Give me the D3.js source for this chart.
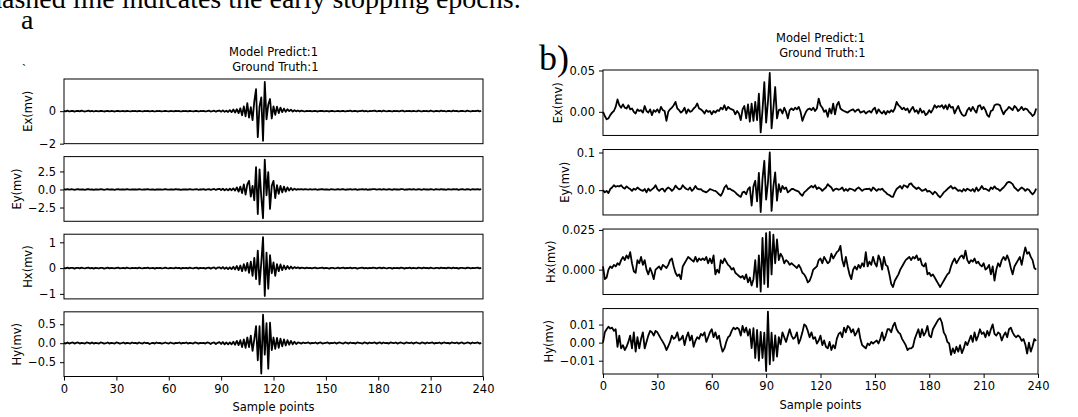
<!DOCTYPE html>
<html>
<head>
<meta charset="utf-8">
<script src="https://cdn.jsdelivr.net/npm/d3@7"></script>
<style>
  body { margin: 0; background: #fff; }
  svg text { font-family: 'DejaVu Sans', sans-serif; fill: #000; }
  .serif { font-family: 'Liberation Serif', 'Times New Roman', serif; }
  .axis text { font-size: 11.5px; }
  .axis line { stroke: #000; }
</style>
</head>
<body>
<script>
/* global d3 */
(function () {
  'use strict'

  // Sample axis
  var xTicks = [0, 30, 60, 90, 120, 150, 180, 210, 240]
  var channels = ['Ex(mv)', 'Ey(mv)', 'Hx(mv)', 'Hy(mv)']
  var titleLines = ['Model Predict:1', ' Ground Truth:1']

  // Panel a) - strong event, values in mv, one per sample
  var aEx = [
    0.02, -0.01, 0.03, -0.02, 0.01, 0.02, -0.03, 0.01, 0.02, -0.01, 0.03, 0, -0.02, 0.01, 0.03, -0.01, 0.02, -0.02, 0.01, 0,
    -0.01, 0.02, 0.01, -0.02, 0, 0.02, -0.01, 0.01, 0, -0.02, 0.01, 0.02, -0.01, 0, 0.01, -0.01, 0.02, 0, -0.01, 0.01,
    0, 0.01, -0.01, 0.02, 0, -0.01, 0.01, 0, 0.02, -0.01, 0, 0.01, -0.02, 0.01, 0, 0.01, -0.01, 0, 0.02, 0,
    -0.01, 0.01, 0, -0.01, 0.02, 0, 0.01, -0.02, 0.01, 0, 0.01, -0.01, 0.02, 0, -0.01, 0.01, 0.02, -0.02, 0.01, 0,
    0.02, -0.02, 0.01, 0.03, -0.02, 0, 0.03, -0.03, 0.02, 0.04, -0.03, 0.05, -0.04, 0.03, -0.05, 0.06, -0.06, 0.1, -0.08, 0.12,
    -0.12, 0.18, -0.25, 0.3, -0.32, 0.5, -0.4, 0.25, -0.55, 0.6, 1.35, -1.6, 0.3, 0.85, -1.82, 1.8, -0.5, 0.4, 0.75, -0.45,
    0.3, -0.22, 0.28, -0.12, 0.22, -0.06, 0.16, -0.04, 0.12, 0, 0.09, -0.03, 0.06, -0.01, 0.04, -0.02, 0.03, 0.01, -0.02, 0.02,
    0, 0.02, -0.01, 0.01, 0.02, -0.02, 0, 0.01, 0.02, -0.01, 0.01, 0, -0.02, 0.02, 0.01, -0.01, 0, 0.02, -0.01, 0.01,
    0.02, -0.02, 0.01, 0, 0.03, -0.01, 0.01, 0.02, -0.02, 0, 0.01, 0.03, -0.01, 0.02, -0.02, 0.01, 0, 0.02, 0.03, -0.01,
    0.01, 0.02, -0.02, 0.03, 0, -0.01, 0.02, 0.01, -0.02, 0.02, 0, 0.01, -0.01, 0.02, 0.03, -0.02, 0.01, 0, 0.02, -0.01,
    0.02, 0, -0.01, 0.03, 0.01, -0.02, 0.02, 0, 0.01, -0.01, 0.03, 0, -0.02, 0.02, 0.01, -0.01, 0.03, 0, 0.01, -0.02,
    0.02, 0.01, -0.01, 0.03, 0, 0.02, -0.02, 0.01, 0.02, 0, -0.01, 0.03, 0.01, -0.02, 0.02, 0, 0.01, 0.03, -0.01, 0.02
  ]
  var aEy = [
    0.04, -0.03, 0.05, -0.02, 0.03, 0.01, -0.04, 0.02, 0.05, -0.03, 0.02, 0, -0.04, 0.03, 0.05, -0.02, 0.03, -0.05, 0.02, 0,
    -0.03, 0.04, 0.02, -0.04, 0, 0.05, -0.02, 0.03, 0, -0.04, 0.02, 0.04, -0.03, 0, 0.02, -0.03, 0.05, 0, -0.02, 0.03,
    0, 0.03, -0.02, 0.04, 0, -0.03, 0.02, 0, 0.05, -0.02, 0, 0.03, -0.04, 0.02, 0, 0.03, -0.02, 0, 0.04, 0,
    -0.03, 0.02, 0, -0.02, 0.05, 0, 0.03, -0.04, 0.02, 0, 0.03, -0.02, 0.04, 0, -0.03, 0.02, 0.05, -0.04, 0.03, 0,
    0.04, -0.05, 0.03, 0.06, -0.05, 0.02, 0.07, -0.06, 0.05, 0.09, -0.08, 0.1, -0.1, 0.08, -0.12, 0.1, -0.1, 0.15, -0.15, 0.3,
    -0.3, 0.4, -0.5, 0.7, -0.7, 0.7, 1.2, -1.0, 0.5, -1.5, 3.1, -3.4, 2.8, -1.0, -4.0, 4.15, -0.8, 2.4, -2.7, 0.5,
    1.2, -1.2, 0.6, -0.6, 0.5, -0.4, 0.4, -0.3, 0.3, -0.15, 0.2, -0.1, 0.12, -0.05, 0.06, 0, 0.04, -0.03, 0.05, 0.02,
    -0.02, 0.04, -0.03, 0.02, 0.05, -0.04, 0, 0.03, 0.05, -0.02, 0.03, 0, -0.04, 0.05, 0.02, -0.03, 0, 0.04, -0.02, 0.03,
    0.05, -0.04, 0.02, 0, 0.06, -0.03, 0.02, 0.04, -0.05, 0, 0.03, 0.06, -0.02, 0.04, -0.04, 0.03, 0, 0.05, 0.06, -0.03,
    0.02, 0.05, -0.04, 0.06, 0, -0.03, 0.04, 0.02, -0.05, 0.04, 0, 0.03, -0.02, 0.05, 0.06, -0.04, 0.02, 0, 0.05, -0.03,
    0.04, 0, -0.03, 0.06, 0.02, -0.04, 0.05, 0, 0.03, -0.02, 0.06, 0, -0.04, 0.05, 0.02, -0.03, 0.06, 0, 0.03, -0.04,
    0.05, 0.02, -0.03, 0.06, 0, 0.04, -0.05, 0.02, 0.05, 0, -0.03, 0.06, 0.02, -0.04, 0.05, 0, 0.03, 0.06, -0.02, 0.04
  ]
  var aHx = [
    0.01, -0.01, 0.02, -0.01, 0.01, 0.01, -0.02, 0.01, 0.01, -0.01, 0.02, 0, -0.01, 0.01, 0.02, -0.01, 0.01, -0.02, 0.01, 0,
    -0.01, 0.01, 0.01, -0.02, 0, 0.02, -0.01, 0.01, 0, -0.01, 0.01, 0.02, -0.01, 0, 0.01, -0.01, 0.02, 0, -0.01, 0.01,
    0, 0.01, -0.01, 0.02, 0, -0.01, 0.01, 0, 0.02, -0.01, 0, 0.01, -0.02, 0.01, 0, 0.01, -0.01, 0, 0.02, 0,
    -0.01, 0.01, 0, -0.01, 0.02, 0, 0.01, -0.02, 0.01, 0, 0.01, -0.01, 0.02, 0, -0.01, 0.01, 0.02, -0.02, 0.01, 0,
    0.01, -0.02, 0.01, 0.02, -0.02, 0.01, 0.03, -0.03, 0.02, 0.03, -0.02, 0.04, -0.03, 0.03, -0.04, 0.03, -0.04, 0.05, -0.05, 0.08,
    -0.08, 0.1, -0.12, 0.15, -0.1, 0.2, -0.18, 0.25, -0.3, 0.4, -0.43, 0.68, -0.63, 0.2, 1.2, -1.08, 0.6, -0.8, 0.5, -0.2,
    0.22, -0.3, 0.15, -0.12, 0.14, -0.08, 0.1, -0.05, 0.08, -0.03, 0.06, -0.02, 0.04, 0, 0.03, -0.01, 0.02, 0.01, -0.01, 0.02,
    0, 0.01, -0.01, 0.01, 0.02, -0.01, 0, 0.01, 0.02, -0.01, 0.01, 0, -0.02, 0.01, 0.01, -0.01, 0, 0.02, -0.01, 0.01,
    0.02, -0.01, 0.01, 0, 0.02, -0.01, 0.01, 0.01, -0.02, 0, 0.01, 0.02, -0.01, 0.01, -0.01, 0.01, 0, 0.02, 0.01, -0.01,
    0.01, 0.02, -0.01, 0.02, 0, -0.01, 0.01, 0.01, -0.02, 0.01, 0, 0.01, -0.01, 0.02, 0.01, -0.02, 0.01, 0, 0.02, -0.01,
    0.01, 0, -0.01, 0.02, 0.01, -0.01, 0.02, 0, 0.01, -0.01, 0.02, 0, -0.01, 0.01, 0.01, -0.01, 0.02, 0, 0.01, -0.01,
    0.02, 0.01, -0.01, 0.02, 0, 0.01, -0.02, 0.01, 0.01, 0, -0.01, 0.02, 0.01, -0.01, 0.01, 0, 0.01, 0.02, -0.01, 0.01
  ]
  var aHy = [
    0.01, -0.01, 0.02, -0.01, 0.01, 0.02, -0.01, 0.01, 0.02, -0.01, 0.01, 0, -0.01, 0.02, 0.01, -0.01, 0.02, -0.01, 0.01, 0,
    -0.01, 0.02, 0.01, -0.01, 0, 0.02, -0.01, 0.01, 0, -0.01, 0.02, 0.01, -0.01, 0, 0.02, -0.01, 0.01, 0, -0.01, 0.02,
    0, 0.01, -0.01, 0.02, 0, -0.01, 0.02, 0, 0.01, -0.02, 0, 0.01, -0.01, 0.02, 0, 0.01, -0.01, 0, 0.02, 0,
    -0.01, 0.02, 0, -0.01, 0.01, 0, 0.02, -0.01, 0.01, 0, 0.02, -0.01, 0.01, 0, -0.01, 0.02, 0.01, -0.01, 0.01, 0,
    0.01, -0.01, 0.02, 0.01, -0.02, 0.01, 0.02, -0.02, 0.01, 0.03, -0.02, 0.03, -0.03, 0.02, -0.03, 0.02, -0.03, 0.04, -0.04, 0.06,
    -0.05, 0.08, -0.1, 0.1, -0.12, 0.15, -0.1, 0.2, -0.2, 0.1, 0.45, -0.45, 0.45, -0.8, 0.75, -0.3, 0.53, -0.67, 0.54, -0.18,
    0.15, -0.15, 0.14, -0.12, 0.12, -0.08, 0.1, -0.06, 0.08, -0.04, 0.06, -0.03, 0.04, -0.02, 0.02, 0.01, -0.01, 0.02, 0, 0.01,
    0.02, -0.01, 0.01, 0, 0.02, -0.01, 0.01, 0.02, -0.01, 0, 0.01, 0.02, -0.01, 0.01, 0, 0.02, -0.01, 0.01, 0.02, 0,
    -0.01, 0.02, 0.01, -0.01, 0.02, 0, 0.01, -0.01, 0.02, 0.01, 0, -0.01, 0.02, 0.01, -0.01, 0.02, 0, 0.01, 0.02, -0.01,
    0.01, 0.02, -0.01, 0.02, 0, 0.01, -0.01, 0.02, 0.01, 0, 0.02, -0.01, 0.01, 0.02, 0, -0.01, 0.02, 0.01, 0, 0.02,
    -0.01, 0.01, 0.02, 0, -0.01, 0.02, 0.01, -0.01, 0.02, 0, 0.01, 0.02, -0.01, 0.01, 0, 0.02, -0.01, 0.01, 0.02, 0,
    0.01, -0.01, 0.02, 0.01, 0, 0.02, -0.01, 0.01, 0.02, -0.01, 0, 0.02, 0.01, -0.01, 0.02, 0, 0.01, 0.02, -0.01, 0.01
  ]

  // Panel b) - weak event buried in noise, values in mv
  var bEx = [
    0, -0.005, -0.009, -0.008, -0.004, -0.001, 0.001, 0.006, 0.015, 0.008, 0.005, 0.009, 0.005, 0.004, 0.008, 0.003, 0.004, 0, -0.002, 0.003,
    0.001, 0.002, -0.001, 0.007, 0.001, -0.001, 0.003, -0.004, 0.002, 0, 0.003, -0.001, 0.006, 0.002, 0.001, -0.011, 0, 0.003, 0.005, 0.008,
    0.012, 0.004, 0.002, -0.001, 0.001, 0.005, -0.002, 0.003, 0, 0.001, 0.004, 0.006, 0.010, 0.004, 0.003, 0.001, -0.002, 0.002, 0, 0.001,
    -0.003, 0.001, -0.001, 0.002, 0.001, 0.005, 0.003, 0.008, 0.002, 0.006, 0.004, 0.003, 0.002, -0.003, 0.001, -0.002, -0.010, 0.003, 0.007, -0.008,
    0.009, -0.012, 0.010, -0.011, 0.012, -0.010, 0.022, -0.025, 0.002, 0.036, -0.013, 0.012, 0.047, -0.020, 0.004, 0.030, -0.008, 0.002, 0.003, -0.002,
    0.005, 0, -0.008, 0.002, 0.004, 0.002, 0.005, 0.003, 0.006, 0, -0.011, -0.005, 0, 0.003, 0.004, 0.002, 0.005, 0.001, 0.004, 0.016,
    0.008, 0.005, 0, 0.002, -0.006, 0.004, -0.002, 0.010, -0.003, 0.008, 0.012, 0.004, 0.002, 0.001, 0, -0.001, 0.001, 0.002, 0.003, 0,
    0.002, 0.003, -0.001, 0, 0.001, -0.002, 0, 0.001, -0.001, 0.003, 0.005, -0.002, 0.003, 0, -0.002, 0.001, -0.003, 0.001, -0.001, 0.002,
    0, 0.004, 0.012, 0.008, 0.006, 0.003, 0.005, 0.002, 0.004, -0.001, 0.003, 0.006, 0, 0.002, -0.002, 0.004, -0.001, 0.001, -0.004, -0.002,
    0.002, -0.001, 0.003, 0.008, 0.005, 0.007, 0.006, 0.008, 0.004, 0.008, 0.003, 0.009, 0.005, 0.006, -0.002, 0.003, 0.007, 0.001, -0.003, -0.005,
    -0.004, 0.002, 0.005, 0.001, 0.006, 0.002, -0.001, 0.007, 0.008, 0.003, 0.006, 0.002, -0.004, -0.006, 0.001, 0.002, 0.008, 0.009, 0.009, 0.008,
    0.002, -0.003, 0.001, 0.003, 0.006, 0.004, 0.002, 0.007, 0.005, 0.001, 0.003, 0.006, 0.002, 0.004, 0.003, 0, -0.002, -0.005, -0.003, 0.004
  ]
  var bEy = [
    0, -0.006, -0.002, -0.008, 0.003, 0.007, 0.013, 0.009, 0.011, 0.010, 0.013, 0.007, 0.004, 0.010, 0.006, 0.003, -0.002, 0.004, 0.001, 0.007,
    0.003, 0, -0.002, 0.003, -0.006, 0.004, -0.002, 0.002, 0.006, 0.013, 0.003, -0.002, 0.003, 0.004, -0.004, 0.003, 0.007, 0.004, -0.002, 0.003,
    0.012, 0.006, 0.002, 0.004, 0.013, 0.007, 0.003, 0.001, 0.007, -0.002, 0.003, 0.011, 0.004, 0.002, 0.003, -0.002, -0.004, -0.006, -0.002, 0.003,
    0.001, -0.001, -0.002, -0.006, -0.011, -0.015, -0.006, 0.007, 0.013, 0.003, 0.004, 0, -0.002, -0.006, -0.011, -0.015, -0.018, -0.006, -0.004, -0.011,
    0.003, 0.008, -0.041, 0.010, 0.025, -0.030, 0.046, -0.058, 0.030, 0.078, -0.025, 0.020, 0.100, -0.055, 0.010, 0.047, -0.028, 0.016, -0.005, 0.011,
    0.003, 0.007, -0.006, -0.002, 0.003, 0.003, 0, -0.002, -0.004, -0.011, -0.015, -0.006, -0.002, 0.003, 0.007, 0.011, 0.007, 0.013, 0.003, 0.007,
    0.004, -0.002, 0.003, 0.007, 0.016, 0.011, 0.007, -0.002, 0.003, 0.004, 0.001, 0.003, 0.007, -0.002, 0.003, -0.002, 0.004, 0.003, 0.001, -0.002,
    0.004, 0.007, 0.003, -0.002, 0.002, 0.003, 0.003, 0.004, -0.002, 0.007, 0.003, -0.002, 0.003, 0.001, 0.004, -0.002, -0.006, -0.011, -0.013, -0.017,
    -0.018, -0.006, 0.003, 0.007, 0.011, 0.004, 0.013, 0.011, 0.007, 0.016, 0.018, 0.011, 0.007, 0.003, 0.007, 0.003, -0.002, 0, 0.003, -0.004,
    -0.002, -0.006, -0.011, -0.004, -0.008, -0.015, -0.019, -0.013, -0.006, -0.002, 0.003, 0.007, 0.011, 0.004, 0.007, 0.003, -0.002, 0, -0.004, 0.003,
    -0.002, 0.004, 0.001, -0.002, 0.003, -0.004, 0.007, -0.002, 0.003, 0.011, 0.003, 0.004, 0.001, -0.002, 0.007, 0.003, 0.010, 0.004, 0.003, -0.002,
    0.003, 0.007, 0.013, 0.020, 0.022, 0.020, 0.016, 0.007, 0.003, -0.002, 0.003, 0.007, 0.004, -0.002, 0.003, 0.001, -0.006, -0.011, -0.006, 0.004
  ]
  var bHx = [
    0.002, -0.006, -0.005, 0, 0.002, 0.001, 0.003, 0.002, 0.004, 0.003, 0.006, 0.008, 0.006, 0.009, 0.007, 0.011, 0.004, -0.001, -0.002, 0.006,
    0.004, 0.008, 0.003, 0.006, 0, -0.003, 0.001, -0.002, -0.006, 0, 0.001, 0.002, 0, 0.003, 0.002, 0.001, 0.003, 0.006, 0.007, 0.002,
    -0.002, -0.004, -0.003, -0.006, 0.002, 0.004, 0.006, 0.008, 0.007, 0.006, 0.005, 0.008, 0.005, 0.007, 0.006, 0.007, 0.006, 0.008, 0.004, 0.007,
    0.004, 0.009, -0.003, 0, -0.002, 0.006, 0.004, 0.007, 0.005, 0.003, 0.002, 0, 0.001, -0.002, -0.003, -0.004, -0.005, -0.004, -0.006, -0.003,
    -0.008, -0.005, -0.010, -0.006, 0.006, -0.011, 0.009, -0.0138, 0.020, -0.009, 0.023, -0.011, 0.0237, -0.003, 0.022, 0.004, 0.019, 0.006, 0.010, 0.008,
    0.004, 0.006, 0.005, 0.003, 0.004, 0.003, 0.002, 0.001, 0.003, 0.001, -0.002, -0.003, -0.005, -0.008, -0.007, -0.004, 0, 0.001, 0.002, 0.006,
    0.007, 0.004, 0.008, 0.006, 0.004, 0.005, 0.010, 0.007, 0.009, 0.011, 0.012, 0.015, 0.006, 0.002, 0.008, 0.002, -0.003, -0.006, 0, 0.002,
    0, 0.003, 0.001, 0.004, 0.002, 0.011, 0.002, 0.005, 0.003, 0.008, 0.004, 0.002, 0.009, 0.006, 0, 0.008, 0.003, 0.002, -0.003, -0.009,
    -0.011, -0.007, -0.005, -0.003, 0, 0.002, 0.004, 0.006, 0.007, 0.008, 0.006, 0.008, 0.007, 0.009, 0.006, 0.007, 0.003, 0.002, 0.004, -0.003,
    -0.002, -0.004, -0.003, -0.005, -0.007, -0.009, -0.011, -0.009, -0.007, -0.005, -0.003, -0.002, 0.002, 0.005, 0.007, 0.004, 0.006, 0.008, 0.009, 0.007,
    0.012, 0.006, 0.004, 0.006, 0.005, 0.007, 0.004, 0.005, 0.003, 0.002, 0.004, 0, 0.001, 0.003, -0.003, 0.002, -0.007, 0, 0.004, 0.002,
    0.006, 0.008, 0.006, 0.009, 0.006, 0.001, -0.003, 0.002, 0.004, 0.006, 0.008, 0.003, 0.009, 0.014, 0.010, 0.011, 0.008, 0.006, 0.001, 0
  ]
  var bHy = [
    0, 0.0057, 0.0074, 0.0088, 0.0078, 0.0083, 0.0065, 0.0074, -0.0023, 0.0039, -0.0032, -0.0014, -0.0041, -0.0023, 0.0004, 0.0039, -0.0032, 0.0057, -0.005, 0.003,
    -0.0032, 0.0021, 0.0057, -0.0032, 0.0004, 0.0039, 0.0065, 0.0057, 0.0039, 0.0065, 0.0057, 0.0039, 0.0021, 0.0004, -0.0014, -0.0041, -0.002, 0.0004, 0.0039, 0.0021,
    0.003, 0.0057, 0.0012, 0.002, 0.0039, -0.0014, 0.003, 0.0057, 0.0012, 0.0039, -0.0023, 0.001, 0.003, 0.0021, 0.0048, 0.0039, 0.0057, 0.0004, 0.003, 0.0057,
    0.0074, 0.003, 0.0057, 0.0021, 0.0039, -0.0014, -0.005, -0.0032, 0.0004, 0.003, 0.0039, 0.0065, 0.0083, 0.0074, 0.0083, 0.0074, 0.0039, 0.0092, 0.0057, 0.0083,
    0.0039, 0.0074, -0.003, 0.008, -0.0085, 0.007, -0.010, 0.006, -0.0085, 0.0055, -0.0157, 0.0172, -0.012, 0.0055, -0.010, 0.004, -0.0077, 0.003, -0.001, 0.0057,
    0.003, 0.0004, 0.0039, 0.0074, 0.0039, 0.0021, 0.003, 0.0057, -0.0005, 0.0021, 0.0057, 0.0101, 0.0092, 0.0065, 0.003, 0.0057, 0.0021, 0.003, -0.0005, 0.0012,
    0.0039, -0.0014, 0.0012, -0.0023, -0.0032, 0.0004, -0.0041, -0.0014, -0.0032, 0.0021, 0.0048, 0.0057, 0.003, 0.0083, 0.0057, 0.0092, 0.0083, 0.0057, 0.0074, 0.0039,
    0.0057, 0.0078, 0.0021, -0.0014, -0.0023, -0.0032, -0.0005, -0.0014, 0.0004, -0.0005, 0.0004, 0.0012, -0.0005, 0.0021, 0.0057, 0.0012, 0.0039, 0.0074, 0.0074, 0.0057,
    0.0092, 0.011, 0.0074, 0.0057, 0.0048, 0.0021, 0.0004, -0.0014, -0.0041, -0.0032, -0.0032, -0.0023, 0.0021, 0.0048, 0.0074, 0.003, 0.0074, 0.0039, 0.0057, 0.0092,
    0.0039, 0.003, 0.0074, 0.0092, 0.011, 0.0127, 0.0135, 0.011, 0.0057, 0.0039, 0.0004, -0.0005, -0.0067, -0.0032, -0.0058, -0.0023, -0.005, -0.0014, -0.0058, -0.0032,
    0.0004, -0.0014, 0.0012, 0.0039, 0.0004, 0.0057, 0.0012, 0.0039, 0.0074, 0.0048, 0.0057, 0.003, 0.0065, 0.0039, 0.0074, 0.0101, 0.0048, 0.0039, 0.0057, 0.0048,
    0.0012, 0.0039, 0.0057, 0.003, 0.0074, 0.0083, 0.0057, 0.0039, 0.003, 0.004, 0.003, 0.001, 0.002, -0.001, -0.006, 0, -0.005, -0.002, 0.002, 0.001
  ]

  // Y tick values per channel, and their label formats
  var aTicks = [[-2, 0], [-2.5, 0, 2.5], [-1, 0, 1], [-0.5, 0, 0.5]]
  var aFormats = ['d', '.1f', 'd', '.1f']
  var bTicks = [[0, 0.05], [0, 0.1], [0, 0.025], [-0.01, 0, 0.01]]
  var bFormats = ['.2f', '.1f', '.3f', '.2f']

  // Figure layout (px)
  var figA = { left: 64, right: 483, top: 79, bottom: 376.5, hspace: 0.2, titleY: 56 }
  var figB = { left: 603, right: 1038, top: 70, bottom: 374, hspace: 0.215, titleY: 42 }

  var svg = d3.select('body').append('svg')
    .attr('width', 1078)
    .attr('height', 417)

  // Leftovers of the surrounding page
  svg.append('text')
    .attr('class', 'serif')
    .attr('x', -12)
    .attr('y', 8)
    .style('font-size', '28px')
    .text('dashed line indicates the early stopping epochs.')
  svg.append('text')
    .attr('class', 'serif')
    .attr('x', 21)
    .attr('y', 29)
    .style('font-size', '28px')
    .text('a')
  svg.append('text')
    .attr('class', 'serif')
    .attr('x', 22)
    .attr('y', 73)
    .style('font-size', '12px')
    .text('ˋ')
  svg.append('text')
    .attr('class', 'serif')
    .attr('x', 539)
    .attr('y', 70)
    .style('font-size', '36px')
    .text('b)')

  drawFigure(svg, figA, [aEx, aEy, aHx, aHy], aTicks, aFormats)
  drawFigure(svg, figB, [bEx, bEy, bHx, bHy], bTicks, bFormats)

  function drawFigure (ctx, fig, series, ticks, formats) {
    var w = fig.right - fig.left
    var h = (fig.bottom - fig.top) / (4 + 3 * fig.hspace)
    var gap = h * fig.hspace
    var x = d3.scaleLinear().domain([0, 240]).range([0, w])
    var cx = fig.left + w / 2

    ctx.append('text')
      .attr('x', cx)
      .attr('y', fig.titleY)
      .attr('text-anchor', 'middle')
      .style('font-size', '11.5px')
      .selectAll('tspan').data(titleLines).enter().append('tspan')
        .attr('x', cx)
        .attr('dy', function (d, i) { return i ? 15 : 0 })
        .style('white-space', 'pre')
        .text(function (d) { return d })

    series.forEach(function (values, k) {
      var top = fig.top + k * (h + gap)
      var g = ctx.append('g')
        .attr('transform', 'translate(' + fig.left + ',' + top + ')')
      var ext = d3.extent(values)
      var pad = (ext[1] - ext[0]) * 0.05
      var y = d3.scaleLinear().domain([ext[0] - pad, ext[1] + pad]).range([h, 0])
      var line = d3.line()
        .x(function (d, i) { return x(i) })
        .y(function (d) { return y(d) })

      g.append('path')
        .attr('d', line(values))
        .attr('fill', 'none')
        .attr('stroke', '#000')
        .attr('stroke-width', 1.8)
        .attr('stroke-linejoin', 'round')

      g.append('rect')
        .attr('width', w)
        .attr('height', h)
        .attr('fill', 'none')
        .attr('stroke', '#000')
        .attr('stroke-width', 1)

      var yAxis = g.append('g')
        .attr('class', 'axis')
        .call(d3.axisLeft(y).tickValues(ticks[k])
          .tickFormat(d3.format(formats[k])).tickSize(4).tickPadding(4))
      yAxis.select('.domain').remove()

      // label sits just left of this panel's widest tick label
      var bb = yAxis.node().getBBox()
      g.append('text')
        .attr('transform', 'translate(' + (bb.x - 4.5) + ',' + (h / 2) + ') rotate(-90)')
        .attr('text-anchor', 'middle')
        .attr('dy', '-0.24em')
        .style('font-size', '11.5px')
        .text(channels[k])

      if (k === series.length - 1) {
        var xAxis = g.append('g')
          .attr('class', 'axis')
          .attr('transform', 'translate(0,' + h + ')')
          .call(d3.axisBottom(x).tickValues(xTicks).tickSize(4).tickPadding(4))
        xAxis.select('.domain').remove()

        g.append('text')
          .attr('x', w / 2)
          .attr('y', h + 35)
          .attr('text-anchor', 'middle')
          .style('font-size', '11.5px')
          .text('Sample points')
      }
    })
  }
}())
</script>
</body>
</html>
